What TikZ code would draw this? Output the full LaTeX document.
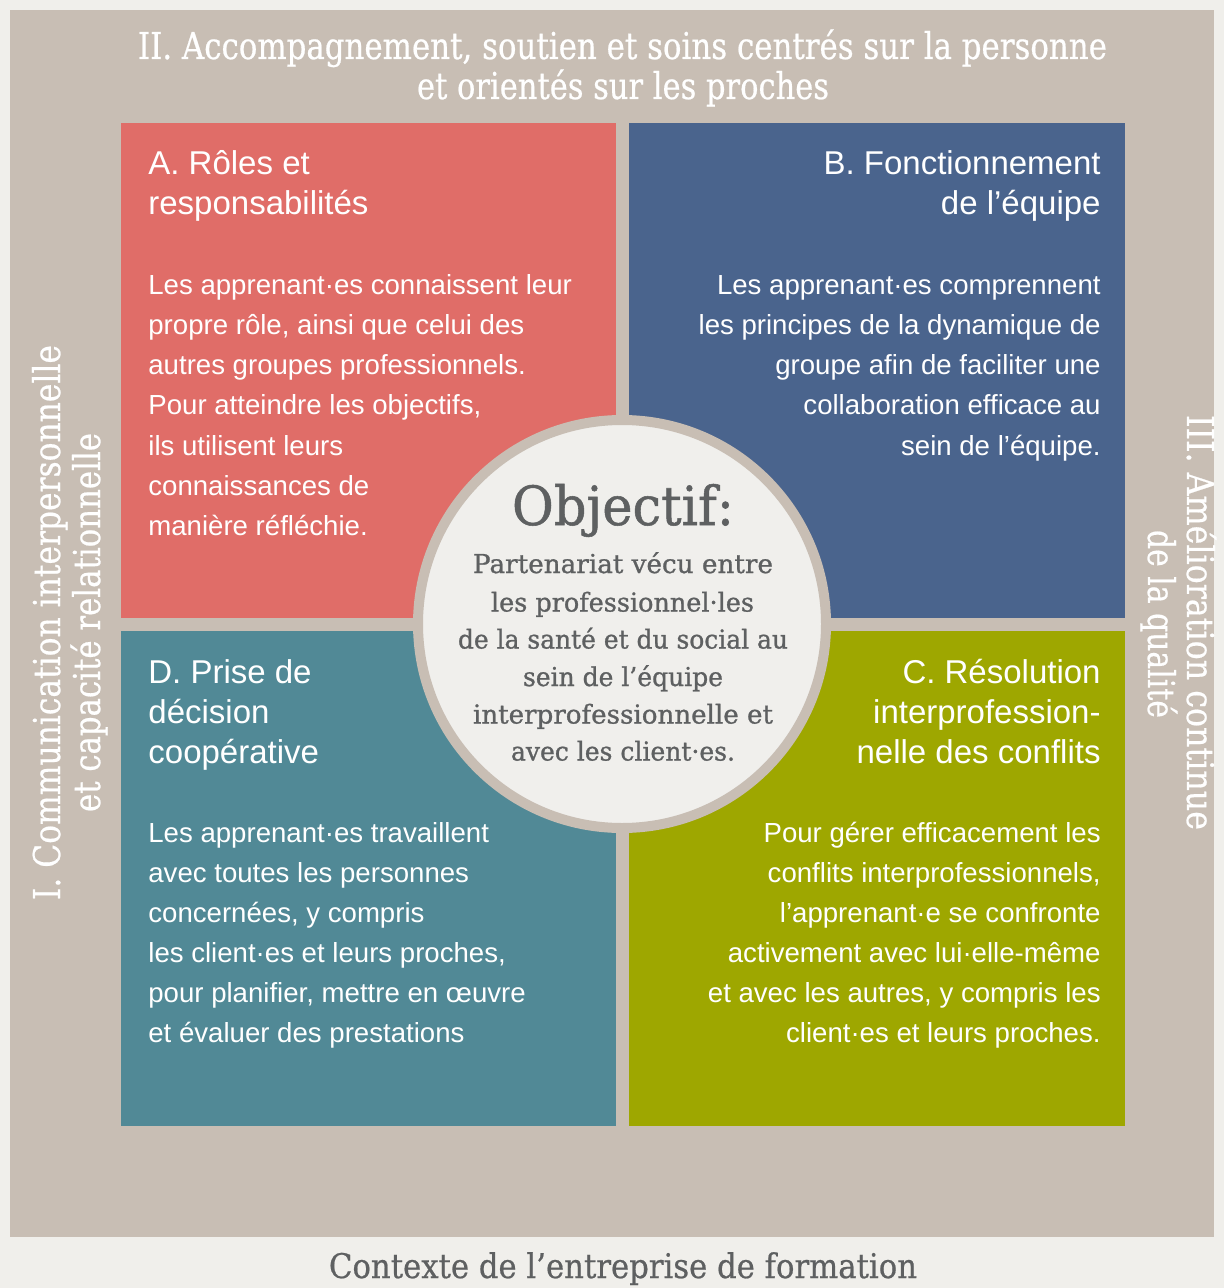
\documentclass[tikz,border=0pt]{standalone}
\usepackage{fontspec}
\usepackage{graphicx}
\setmainfont{DejaVu Serif}
\newfontfamily\sansf{Liberation Sans}
\newfontfamily\slab[FakeBold=0.6]{DejaVu Serif}
\newfontfamily\slabc[FakeBold=1.0]{DejaVu Serif}
\newcommand\fitw[2]{\resizebox{#1}{\height}{#2}}
\definecolor{bgout}{HTML}{F0EFEB}
\definecolor{beige}{HTML}{C8BEB4}
\definecolor{qred}{HTML}{E06D68}
\definecolor{qblue}{HTML}{4A648D}
\definecolor{qteal}{HTML}{518996}
\definecolor{qolive}{HTML}{9EA700}
\definecolor{cfill}{HTML}{F0EFEC}
\definecolor{greytxt}{HTML}{5E6061}
\tikzset{
  body/.style={font=\sansf\fontsize{13.8}{16}\selectfont, text=white, inner sep=0pt},
  head/.style={font=\sansf\fontsize{16.5}{19}\selectfont, text=white, inner sep=0pt},
  frametxt/.style={font=\slab\fontsize{18.5}{22}\selectfont, text=white, inner sep=0pt, anchor=base},
  ctxt/.style={font=\slabc\fontsize{13}{16}\selectfont, text=greytxt, inner sep=0pt, anchor=base},
}
\begin{document}
\begin{tikzpicture}[x=0.5pt,y=-0.5pt]
\useasboundingbox (0,0) rectangle (1224,1288);
\clip (0,0) rectangle (1224,1288);
\fill[bgout] (0,0) rectangle (1224,1288);
\fill[beige] (10,10) rectangle (1214,1237);
% quadrants
\fill[qred] (121,123) rectangle (616,618);
\fill[qblue] (629,123) rectangle (1125,618);
\fill[qteal] (121,631) rectangle (616,1126);
\fill[qolive] (629,631) rectangle (1125,1126);
% central circle
\draw[beige, fill=cfill, line width=5pt] (622,624) circle [radius=204];
% frame titles
\node[frametxt] (t1) at (622.5,59) {\fitw{484.5pt}{II. Accompagnement, soutien et soins centrés sur la personne}};
\node[frametxt] (t2) at (623,99) {\fitw{206pt}{et orientés sur les proches}};
\node[frametxt, rotate=90] (l1) at (60,622.5) {\fitw{277.5pt}{I. Communication interpersonnelle}};
\node[frametxt, rotate=90] (l2) at (100,622.5) {\fitw{189.5pt}{et capacité relationnelle}};
\node[frametxt, rotate=-90] (r1) at (1187,622.5) {\fitw{207.5pt}{III. Amélioration continue}};
\node[frametxt, rotate=-90] (r2) at (1148,624) {\fitw{94pt}{de la qualité}};
\node[frametxt, text=greytxt, font=\slab\fontsize{17}{20}\selectfont] (bot) at (623,1278) {\fitw{294pt}{Contexte de l’entreprise de formation}};
% circle texts
\node[ctxt, font=\slabc\fontsize{27}{30}\selectfont] (obj) at (623,525) {\fitw{111pt}{Objectif:}};
\node[ctxt] (c1) at (623,573) {\fitw{150pt}{Partenariat vécu entre}};
\node[ctxt] (c2) at (622.5,611.5) {\fitw{131.5pt}{les professionnel·les}};
\node[ctxt] (c3) at (623,648.5) {\fitw{165pt}{de la santé et du social au}};
\node[ctxt] (c4) at (623,686) {\fitw{100pt}{sein de l’équipe}};
\node[ctxt] (c5) at (623,723.5) {\fitw{150pt}{interprofessionnelle et}};
\node[ctxt] (c6) at (623,760.5) {\fitw{112pt}{avec les client·es.}};
% quadrant A
\foreach \t [count=\i] in {{A. Rôles et},{responsabilités}}
  \node[head, anchor=base west] (ah\i) at (148,{175+40*(\i-1)}) {\t};
\foreach \t [count=\i] in {{Les apprenant·es connaissent leur},{propre rôle, ainsi que celui des},{autres groupes professionnels.},{Pour atteindre les objectifs,},{ils utilisent leurs},{connaissances de},{manière réfléchie.}}
  \node[body, anchor=base west] (ab\i) at (148,{295+40*(\i-1)}) {\t};
% quadrant B
\foreach \t [count=\i] in {{B. Fonctionnement},{de l’équipe}}
  \node[head, anchor=base east] (bh\i) at (1101,{175+40*(\i-1)}) {\t};
\foreach \t [count=\i] in {{Les apprenant·es comprennent},{les principes de la dynamique de},{groupe afin de faciliter une},{collaboration efficace au},{sein de l’équipe.}}
  \node[body, anchor=base east] (bb\i) at (1101,{295+40*(\i-1)}) {\t};
% quadrant D
\foreach \t [count=\i] in {{D. Prise de},{décision},{coopérative}}
  \node[head, anchor=base west] (dh\i) at (148,{683+40*(\i-1)}) {\t};
\foreach \t [count=\i] in {{Les apprenant·es travaillent},{avec toutes les personnes},{concernées, y compris},{les client·es et leurs proches,},{pour planifier, mettre en œuvre},{et évaluer des prestations}}
  \node[body, anchor=base west] (db\i) at (148,{842+40*(\i-1)}) {\t};
% quadrant C
\foreach \t [count=\i] in {{C. Résolution},{interprofession-},{nelle des conflits}}
  \node[head, anchor=base east] (ch\i) at (1101,{683+40*(\i-1)}) {\t};
\foreach \t [count=\i] in {{Pour gérer efficacement les},{conflits interprofessionnels,},{l’apprenant·e se confronte},{activement avec lui·elle-même},{et avec les autres, y compris les},{client·es et leurs proches.}}
  \node[body, anchor=base east] (cb\i) at (1101,{842+40*(\i-1)}) {\t};
\end{tikzpicture}
\end{document}
